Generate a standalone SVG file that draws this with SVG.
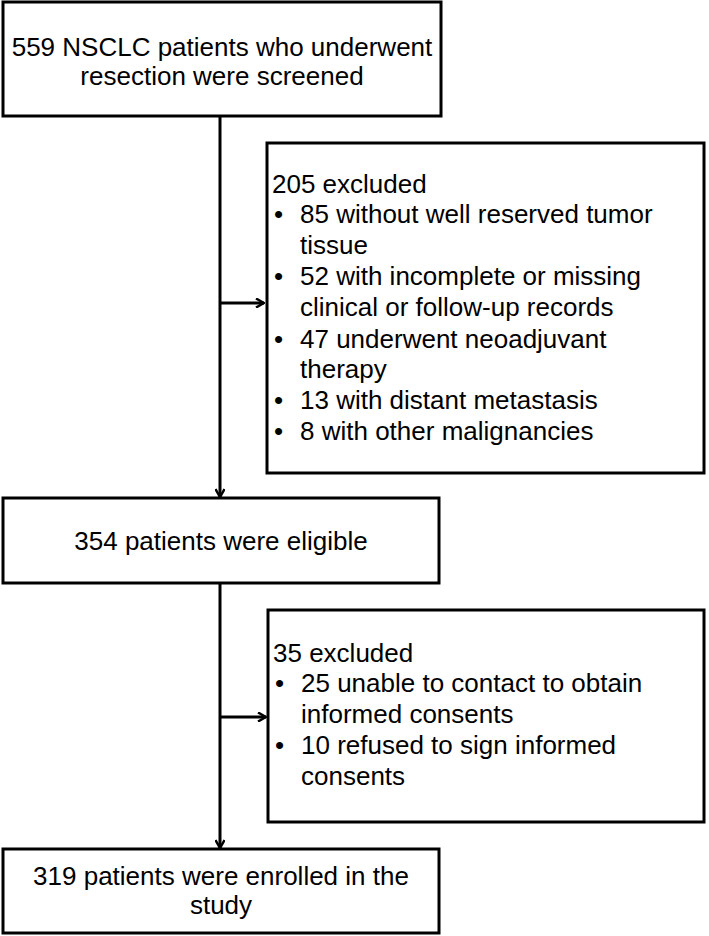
<svg xmlns="http://www.w3.org/2000/svg" width="709" height="936" viewBox="0 0 709 936">
<style>
.box{fill:#fff;stroke:#000;stroke-width:3}
.t{font-family:"Liberation Sans",Arial,sans-serif;font-size:26px;fill:#000}
.c{text-anchor:middle}
.ln{stroke:#000;stroke-width:3;fill:none}
</style>
<defs>
<marker id="ah" markerWidth="10" markerHeight="10" refX="9" refY="5" orient="auto" markerUnits="userSpaceOnUse" viewBox="0 0 10 10">
<path d="M1,0.5 L9,5 L1,9.5" fill="none" stroke="#000" stroke-width="2.5"/>
</marker>
</defs>
<rect width="709" height="936" fill="#fff"/>
<g id="connectors">
<line class="ln" x1="220" y1="116" x2="220" y2="497" marker-end="url(#ah)"/>
<line class="ln" x1="220" y1="303" x2="264" y2="303" marker-end="url(#ah)"/>
<line class="ln" x1="220" y1="583" x2="220" y2="848" marker-end="url(#ah)"/>
<line class="ln" x1="220" y1="717" x2="266" y2="717" marker-end="url(#ah)"/>
</g>
<g id="screened">
<rect class="box" x="3" y="2" width="438" height="114"/>
<text class="t c" x="222" y="56">559 NSCLC patients who underwent</text>
<text class="t c" x="222" y="85">resection were screened</text>
</g>
<g id="excluded1">
<rect class="box" x="267" y="143" width="437" height="330"/>
<text class="t" x="272" y="193">205 excluded</text>
<text class="t" x="274" y="223">•</text><text class="t" x="300" y="223">85 without well reserved tumor</text>
<text class="t" x="300" y="254">tissue</text>
<text class="t" x="274" y="285">•</text><text class="t" x="300" y="285">52 with incomplete or missing</text>
<text class="t" x="300" y="316">clinical or follow-up records</text>
<text class="t" x="274" y="348">•</text><text class="t" x="300" y="348">47 underwent neoadjuvant</text>
<text class="t" x="300" y="378">therapy</text>
<text class="t" x="274" y="409">•</text><text class="t" x="300" y="409">13 with distant metastasis</text>
<text class="t" x="274" y="440">•</text><text class="t" x="300" y="440">8 with other malignancies</text>
</g>
<g id="eligible">
<rect class="box" x="3" y="498" width="436" height="85"/>
<text class="t c" x="221" y="550">354 patients were eligible</text>
</g>
<g id="excluded2">
<rect class="box" x="268" y="610" width="436" height="212"/>
<text class="t" x="273" y="662">35 excluded</text>
<text class="t" x="275" y="692">•</text><text class="t" x="301" y="692">25 unable to contact to obtain</text>
<text class="t" x="301" y="723">informed consents</text>
<text class="t" x="275" y="754">•</text><text class="t" x="301" y="754">10 refused to sign informed</text>
<text class="t" x="301" y="785">consents</text>
</g>
<g id="enrolled">
<rect class="box" x="3" y="849" width="436" height="84"/>
<text class="t c" x="221" y="885">319 patients were enrolled in the</text>
<text class="t c" x="221" y="914">study</text>
</g>
</svg>
